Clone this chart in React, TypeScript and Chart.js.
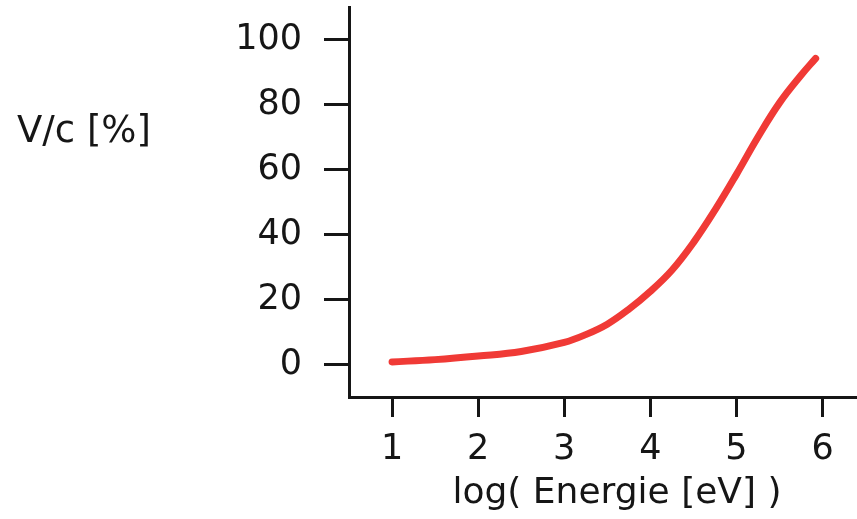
import React, { useEffect, useRef } from "react";
import { Chart, registerables } from "chart.js";

Chart.register(...registerables);

const energyLog = [1, 1.5, 2, 2.5, 3, 3.25, 3.5, 3.75, 4, 4.25, 4.5, 4.75, 5, 5.25, 5.5, 5.75, 5.92];
const speedPct = [0.8, 1.5, 2.6, 4, 6.8, 9.2, 12.4, 17, 22.5, 29, 37.5, 47.5, 58.5, 70, 80.5, 89, 94.2];
const xTicks = [1, 2, 3, 4, 5, 6];
const yTicks = [0, 20, 40, 60, 80, 100];
const xTitle = "log( Energie [eV] )";
const yTitle = "V/c [%]";

const FONT = "'DejaVu Sans', sans-serif";
const INK = "#161616";

const titlePlugin = {
  id: "freeTitles",
  afterDraw(chart: any) {
    const ctx = chart.ctx;
    ctx.save();
    ctx.fillStyle = INK;
    ctx.textBaseline = "alphabetic";
    ctx.font = `37px ${FONT}`;
    ctx.textAlign = "left";
    ctx.fillText(yTitle, 17, 142);
    ctx.font = `36px ${FONT}`;
    ctx.textAlign = "center";
    ctx.fillText(xTitle, 617, 503);
    ctx.restore();
  },
};

export default function App() {
  const ref = useRef<HTMLCanvasElement | null>(null);
  useEffect(() => {
    if (!ref.current) return;
    const chart = new Chart(ref.current, {
      type: "line",
      data: {
        datasets: [
          {
            data: energyLog.map((x, i) => ({ x, y: speedPct[i] })),
            borderColor: "#f03a36",
            borderWidth: 7,
            borderCapStyle: "round",
            borderJoinStyle: "round",
            pointRadius: 0,
            tension: 0.4,
            fill: false,
          },
        ],
      },
      plugins: [titlePlugin],
      options: {
        animation: false,
        responsive: true,
        maintainAspectRatio: false,
        layout: { padding: { top: 7, left: 0, right: 0, bottom: 0 } },
        plugins: { legend: { display: false }, tooltip: { enabled: false }, title: { display: false } },
        scales: {
          x: {
            type: "linear",
            min: 0.5,
            max: 6.4,
            afterBuildTicks: (s: any) => {
              s.ticks = xTicks.map((v) => ({ value: v }));
            },
            afterFit: (s: any) => {
              s.height = 122;
              s.paddingLeft = 0;
              s.paddingRight = 0;
            },
            grid: {
              drawOnChartArea: false,
              drawTicks: true,
              tickLength: 20,
              tickWidth: 3,
              tickColor: INK,
            },
            border: { display: true, color: INK, width: 3 },
            ticks: {
              font: { family: FONT, size: 35 },
              color: INK,
              padding: 12,
              maxRotation: 0,
              autoSkip: false,
            },
          },
          y: {
            type: "linear",
            min: -10,
            max: 110,
            afterBuildTicks: (s: any) => {
              s.ticks = yTicks.map((v) => ({ value: v }));
            },
            afterFit: (s: any) => {
              s.width = 349;
              s.paddingTop = 0;
              s.paddingBottom = 0;
            },
            grid: {
              drawOnChartArea: false,
              drawTicks: true,
              tickLength: 25,
              tickWidth: 3,
              tickColor: INK,
            },
            border: { display: true, color: INK, width: 3 },
            ticks: {
              font: { family: FONT, size: 35 },
              color: INK,
              padding: 22,
              autoSkip: false,
            },
          },
        },
      },
    } as any);
    return () => chart.destroy();
  }, []);
  return (
    <div style={{ position: "fixed", left: 0, top: 0, width: 857, height: 519, background: "#fff" }}>
      <canvas ref={ref} />
    </div>
  );
}
